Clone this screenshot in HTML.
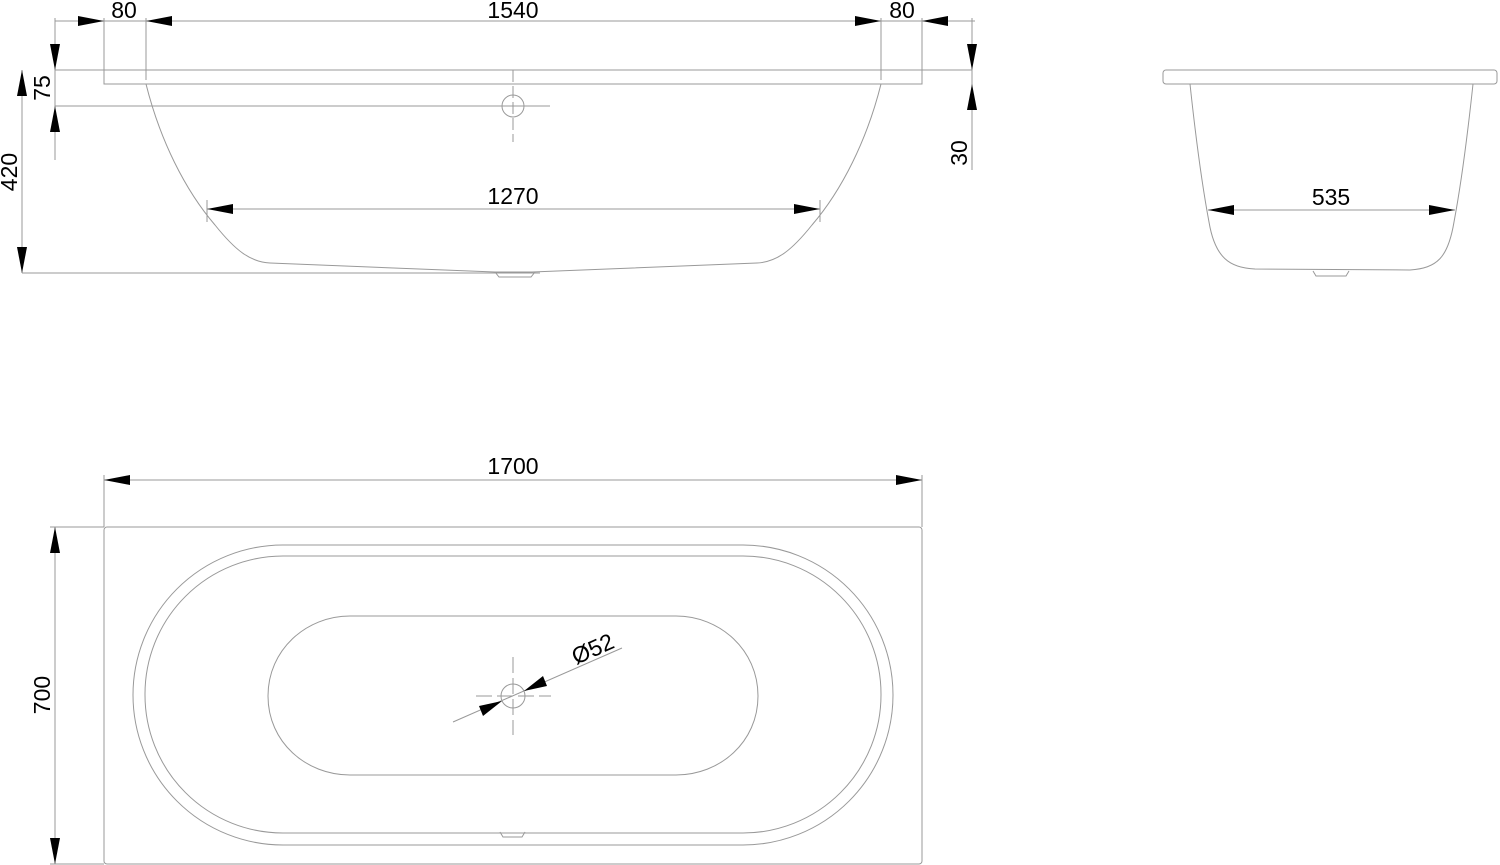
<!DOCTYPE html>
<html><head><style>body{margin:0;background:#fff}svg{display:block}text{font-family:"Liberation Sans",sans-serif;font-size:23px;fill:#000}</style></head><body>
<svg width="1500" height="865" viewBox="0 0 1500 865" xmlns="http://www.w3.org/2000/svg">
<g fill="none" stroke="#999" stroke-width="1">
<line x1="55" y1="70" x2="972" y2="70"/>
<path d="M104,70V84H922V70"/>
<line x1="55" y1="106" x2="550" y2="106"/>
<line x1="22" y1="273" x2="540" y2="273"/>
<circle cx="513" cy="106" r="11"/>
<line x1="513" y1="70" x2="513" y2="142" stroke-dasharray="12,4"/>
<line x1="490" y1="106" x2="536" y2="106"/>
<path d="M146,84C160,140 185,190 215,225C235,250 250,262 270,263L495,272L532,272L757,263C777,262 792,250 812,225C842,190 867,140 881,84"/>
<path d="M495,272L499,277H531L535,272"/>
<line x1="104" y1="18" x2="104" y2="70"/><line x1="146" y1="18" x2="146" y2="80"/>
<line x1="881" y1="18" x2="881" y2="80"/><line x1="922" y1="18" x2="922" y2="70"/>
<line x1="55" y1="21" x2="975" y2="21"/>
<line x1="55" y1="18" x2="55" y2="160"/>
<line x1="22" y1="70" x2="22" y2="273"/>
<line x1="972" y1="18" x2="972" y2="170"/>
<line x1="207" y1="209" x2="820" y2="209"/>
<line x1="207" y1="200" x2="207" y2="222"/><line x1="820" y1="200" x2="820" y2="222"/>
<rect x="1163" y="70" width="334" height="14" rx="3"/>
<path d="M1190,84C1196,140 1203,190 1209,222C1215,258 1230,268 1255,269L1410,270C1437,268 1448,258 1454,222C1460,190 1467,140 1473,84"/>
<path d="M1313,271L1316,276H1346L1349,271"/>
<line x1="1208" y1="210" x2="1455" y2="210"/>
<rect x="104" y="527" width="818" height="337" rx="3"/>
<rect x="133" y="545" width="760" height="300" rx="150"/>
<rect x="145" y="556" width="736" height="277" rx="138"/>
<path d="M350,616L676,616C720,616 758,650 758,696C758,742 720,775 676,775L350,775C306,775 268,742 268,696C268,650 306,616 350,616Z"/>
<circle cx="513" cy="696" r="12"/>
<line x1="513" y1="657" x2="513" y2="735" stroke-dasharray="16,5"/>
<line x1="476" y1="696" x2="551" y2="696" stroke-dasharray="16,5"/>
<line x1="453" y1="722" x2="622" y2="648"/>
<path d="M500,832L503,837H522L525,832"/>
<line x1="104" y1="475" x2="104" y2="527"/><line x1="922" y1="475" x2="922" y2="527"/>
<line x1="50" y1="527" x2="104" y2="527"/><line x1="50" y1="864" x2="104" y2="864"/>
<line x1="104" y1="480" x2="922" y2="480"/>
<line x1="55" y1="527" x2="55" y2="864"/>
</g>
<g stroke="none" fill="#000">
<path d="M104,21l-26,-5v10z"/><path d="M146,21l26,-5v10z"/>
<path d="M881,21l-26,-5v10z"/><path d="M922,21l26,-5v10z"/>
<path d="M55,70l-5,-26h10z"/><path d="M55,106l-5,26h10z"/>
<path d="M22,70l-5,26h10z"/><path d="M22,273l-5,-26h10z"/>
<path d="M972,70l-5,-26h10z"/><path d="M972,84l-5,26h10z"/>
<path d="M207,209l26,-5v10z"/><path d="M820,209l-26,-5v10z"/>
<path d="M1208,210l26,-5v10z"/><path d="M1455,210l-26,-5v10z"/>
<path d="M104,480l26,-5v10z"/><path d="M922,480l-26,-5v10z"/>
<path d="M55,527l-5,26h10z"/><path d="M55,864l-5,-26h10z"/>
<path d="M502,701l-23,5l4,10z"/><path d="M524,691l23,-5l-4,-10z"/>
</g>
<text x="124" y="18" text-anchor="middle">80</text>
<text x="513" y="18" text-anchor="middle">1540</text>
<text x="902" y="18" text-anchor="middle">80</text>
<text x="513" y="204" text-anchor="middle">1270</text>
<text x="1331" y="205" text-anchor="middle">535</text>
<text x="513" y="474" text-anchor="middle">1700</text>
<text transform="translate(50,88) rotate(-90)" text-anchor="middle">75</text>
<text transform="translate(17,172) rotate(-90)" text-anchor="middle">420</text>
<text transform="translate(967,153) rotate(-90)" text-anchor="middle">30</text>
<text transform="translate(50,695) rotate(-90)" text-anchor="middle">700</text>
<text transform="translate(596,656) rotate(-24)" text-anchor="middle">Ø52</text>
</svg>
</body></html>
